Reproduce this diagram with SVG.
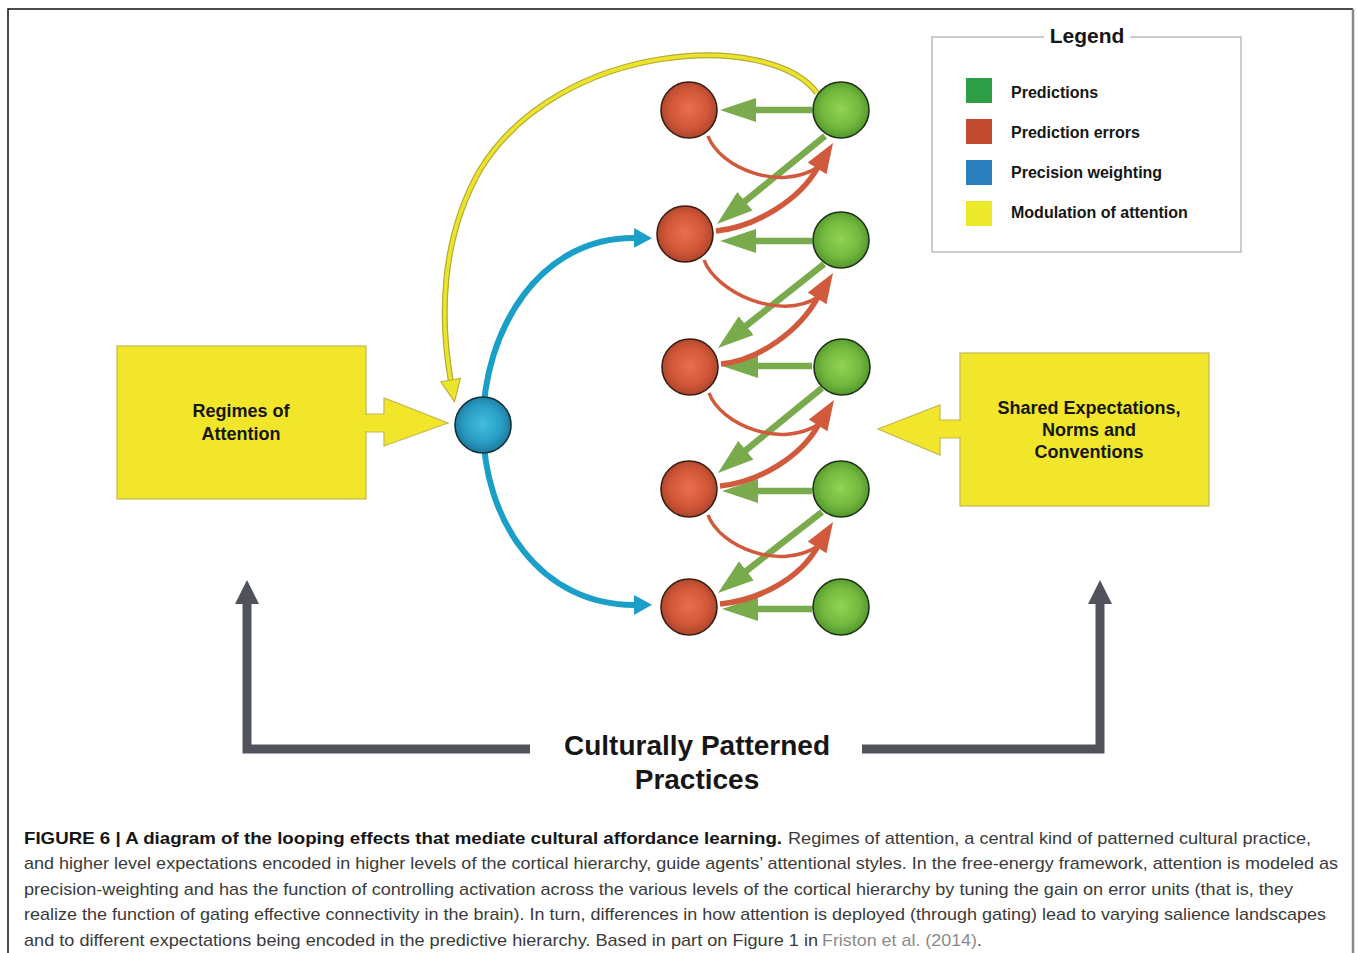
<svg xmlns="http://www.w3.org/2000/svg" xmlns:xlink="http://www.w3.org/1999/xlink" width="1357" height="953" viewBox="0 0 1357 953">
  <style>
    .lbl { font-family: "Liberation Sans", Arial, sans-serif; font-weight: bold; fill: #161616; }
    .cap { font-family: "Liberation Sans", Arial, sans-serif; font-size: 17px; fill: #3a3a3a; }
    .capb { font-family: "Liberation Sans", Arial, sans-serif; font-size: 17px; font-weight: bold; fill: #151515; }
    .box { fill: #f2e62a; stroke: #c4b850; stroke-width: 1.2; }
    .red { fill: url(#gRed); stroke: #3a1e12; stroke-width: 1.6; }
    .green { fill: url(#gGreen); stroke: #1f3312; stroke-width: 1.6; }
    .blue { fill: url(#gBlue); stroke: #10303e; stroke-width: 1.6; }
    .gline { stroke: #79aa4c; stroke-width: 6.5; fill: none; marker-end: url(#mGreen); }
    .rthin { stroke: #d25a3c; stroke-width: 3.5; fill: none; }
    .rthick { stroke: #d25a3c; stroke-width: 5.5; fill: none; }
    .gray { stroke: #50535c; stroke-width: 9; fill: none; }
  </style>
  <defs>
    <radialGradient id="gRed" cx="50%" cy="48%" r="55%">
      <stop offset="0" stop-color="#ea6d50"/>
      <stop offset="0.6" stop-color="#d25838"/>
      <stop offset="1" stop-color="#a9412a"/>
    </radialGradient>
    <radialGradient id="gGreen" cx="50%" cy="48%" r="55%">
      <stop offset="0" stop-color="#92d452"/>
      <stop offset="0.6" stop-color="#74b83e"/>
      <stop offset="1" stop-color="#4c942a"/>
    </radialGradient>
    <radialGradient id="gBlue" cx="50%" cy="48%" r="55%">
      <stop offset="0" stop-color="#40bde0"/>
      <stop offset="0.6" stop-color="#2a9ec4"/>
      <stop offset="1" stop-color="#1a7394"/>
    </radialGradient>
    <marker id="mGreen" markerUnits="userSpaceOnUse" viewBox="0 -13 36 26" markerWidth="36" markerHeight="26" refX="6" refY="0" orient="auto">
      <path d="M0,-12 L36,0 L0,12 z" fill="#79aa4c"/>
    </marker>
    <marker id="mBlue" markerUnits="userSpaceOnUse" viewBox="0 -11 18 22" markerWidth="18" markerHeight="22" refX="2" refY="0" orient="auto-start-reverse">
      <path d="M0,-10 L18,0 L0,10 z" fill="#1a9fc9"/>
    </marker>
    <marker id="mYellow" markerUnits="userSpaceOnUse" viewBox="-1 -12 25 24" markerWidth="25" markerHeight="24" refX="2" refY="0" orient="auto">
      <path d="M0,-10 L22,0 L0,10 z" fill="#ece42c" stroke="#b3aa34" stroke-width="1"/>
    </marker>
    <path id="rh" d="M0,0 L-30,-11 L-30,11 z" fill="#d25a3c"/>
  </defs>

  <rect width="1357" height="953" fill="#ffffff"/>

  <!-- figure frame -->
  <g id="frame" fill="none">
    <path d="M8,953 V9 H1353" stroke="#111" stroke-width="1.5"/>
    <path d="M1353,9 V953" stroke="#888" stroke-width="2.5"/>
  </g>

  <!-- legend -->
  <g id="legend">
    <path d="M1044,37 H932 V252 H1241 V37 H1130" fill="none" stroke="#bcbcbc" stroke-width="1.5"/>
    <text class="lbl" x="1087" y="43" font-size="21" text-anchor="middle">Legend</text>
    <rect x="966" y="78" width="26" height="25" fill="#2f9e49"/>
    <rect x="966" y="119" width="26" height="25" fill="#c24b31"/>
    <rect x="966" y="160" width="26" height="25" fill="#2b80c0"/>
    <rect x="966" y="201" width="26" height="25" fill="#ece82a"/>
    <text class="lbl" x="1011" y="98" font-size="16">Predictions</text>
    <text class="lbl" x="1011" y="138" font-size="16">Prediction errors</text>
    <text class="lbl" x="1011" y="178" font-size="16">Precision weighting</text>
    <text class="lbl" x="1011" y="218" font-size="16">Modulation of attention</text>
  </g>

  <!-- connectors -->
  <g id="connectors">
    <!-- modulation of attention: from top prediction unit to precision node -->
    <path d="M817,93 C770,30 560,40 480,170 C440,240 440,320 451,382" fill="none" stroke="#b3aa34" stroke-width="6"/>
    <path d="M817,93 C770,30 560,40 480,170 C440,240 440,320 451,382" fill="none" stroke="#ece42c" stroke-width="3.6" marker-end="url(#mYellow)"/>

    <!-- precision weighting onto error units -->
    <path d="M636,238 C540,236 483,330 483,425 C483,520 540,606 636,605" fill="none" stroke="#1a9fc9" stroke-width="6" marker-start="url(#mBlue)" marker-end="url(#mBlue)"/>

    <!-- predictions: same level -->
    <line class="gline" x1="812" y1="110" x2="750" y2="110"/>
    <line class="gline" x1="812" y1="241" x2="750" y2="241"/>
    <line class="gline" x1="812" y1="366" x2="752" y2="366"/>
    <line class="gline" x1="812" y1="491" x2="752" y2="491"/>
    <line class="gline" x1="812" y1="609" x2="752" y2="609"/>

    <!-- predictions: descending -->
    <line class="gline" x1="825" y1="136" x2="740.3" y2="205"/>
    <line class="gline" x1="824" y1="264" x2="741.5" y2="329.4"/>
    <line class="gline" x1="822" y1="388" x2="741.2" y2="454"/>
    <line class="gline" x1="822" y1="512" x2="741.7" y2="574.5"/>

    <!-- prediction errors: ascending -->
    <path class="rthin" d="M708,136 C720,168 780,192 818,167"/>
    <path class="rthick" d="M716,231 C755,227 800,200 818,167"/>
    <use href="#rh" transform="translate(833,143) rotate(-58)"/>

    <path class="rthin" d="M704,260 C716,292 780,322 818,297"/>
    <path class="rthick" d="M721,364 C760,360 800,330 818,297"/>
    <use href="#rh" transform="translate(833,273) rotate(-58)"/>

    <path class="rthin" d="M709,393 C721,425 781,449 819,424"/>
    <path class="rthick" d="M720,486 C759,482 801,457 819,424"/>
    <use href="#rh" transform="translate(834,400) rotate(-58)"/>

    <path class="rthin" d="M708,515 C720,547 780,571 818,546"/>
    <path class="rthick" d="M720,604 C759,600 800,579 818,546"/>
    <use href="#rh" transform="translate(833,522) rotate(-58)"/>

    <!-- feedback loops from practices -->
    <path class="gray" d="M530,749 H247 V602"/>
    <polygon points="235,604 247,580 259,604" fill="#50535c"/>
    <path class="gray" d="M862,749 H1100 V602"/>
    <polygon points="1088,604 1100,580 1112,604" fill="#50535c"/>
  </g>

  <!-- regimes of attention -->
  <g id="regimes">
    <rect class="box" x="117" y="346" width="249" height="153"/>
    <polygon class="box" points="366,414 384,414 384,398 448,423 384,446 384,432 366,432"/>
    <rect x="364" y="415" width="3" height="16" fill="#f2e62a"/>
    <text class="lbl" x="241" y="417" font-size="18" text-anchor="middle">Regimes of</text>
    <text class="lbl" x="241" y="440" font-size="18" text-anchor="middle">Attention</text>
  </g>

  <!-- shared expectations -->
  <g id="shared">
    <rect class="box" x="960" y="353" width="249" height="153"/>
    <polygon class="box" points="960,420 940,420 940,405 878,429 940,455 940,438 960,438"/>
    <rect x="959" y="421" width="3" height="16" fill="#f2e62a"/>
    <text class="lbl" x="1089" y="414" font-size="18" text-anchor="middle">Shared Expectations,</text>
    <text class="lbl" x="1089" y="436" font-size="18" text-anchor="middle">Norms and</text>
    <text class="lbl" x="1089" y="458" font-size="18" text-anchor="middle">Conventions</text>
  </g>

  <!-- precision weighting node -->
  <g id="precision"><circle class="blue" cx="483" cy="425" r="28"/></g>

  <!-- prediction error units -->
  <g id="error1"><circle class="red" cx="689" cy="110" r="28"/></g>
  <g id="error2"><circle class="red" cx="685" cy="234" r="28"/></g>
  <g id="error3"><circle class="red" cx="690" cy="367" r="28"/></g>
  <g id="error4"><circle class="red" cx="689" cy="489" r="28"/></g>
  <g id="error5"><circle class="red" cx="689" cy="607" r="28"/></g>

  <!-- prediction units -->
  <g id="pred1"><circle class="green" cx="841" cy="110" r="28"/></g>
  <g id="pred2"><circle class="green" cx="841" cy="240" r="28"/></g>
  <g id="pred3"><circle class="green" cx="842" cy="367" r="28"/></g>
  <g id="pred4"><circle class="green" cx="841" cy="489" r="28"/></g>
  <g id="pred5"><circle class="green" cx="841" cy="607" r="28"/></g>

  <!-- practices -->
  <g id="practices">
    <text class="lbl" x="697" y="755" font-size="28" text-anchor="middle">Culturally Patterned</text>
    <text class="lbl" x="697" y="789" font-size="28" text-anchor="middle">Practices</text>
  </g>

  <!-- caption -->
  <g id="caption">
    <text class="capb" x="24" y="844" textLength="758" lengthAdjust="spacingAndGlyphs">FIGURE 6 | A diagram of the looping effects that mediate cultural affordance learning.</text>
    <text class="cap" x="788" y="844" textLength="523" lengthAdjust="spacingAndGlyphs">Regimes of attention, a central kind of patterned cultural practice,</text>
    <text class="cap" x="24" y="869" textLength="1314" lengthAdjust="spacingAndGlyphs">and higher level expectations encoded in higher levels of the cortical hierarchy, guide agents’ attentional styles. In the free-energy framework, attention is modeled as</text>
    <text class="cap" x="24" y="895" textLength="1269" lengthAdjust="spacingAndGlyphs">precision-weighting and has the function of controlling activation across the various levels of the cortical hierarchy by tuning the gain on error units (that is, they</text>
    <text class="cap" x="24" y="920" textLength="1302" lengthAdjust="spacingAndGlyphs">realize the function of gating effective connectivity in the brain). In turn, differences in how attention is deployed (through gating) lead to varying salience landscapes</text>
    <text class="cap" x="24" y="946" textLength="794" lengthAdjust="spacingAndGlyphs">and to different expectations being encoded in the predictive hierarchy. Based in part on Figure 1 in</text>
    <text class="cap" x="822" y="946" textLength="155" lengthAdjust="spacingAndGlyphs" fill="#8a8a8a" style="fill:#8a8a8a">Friston et al. (2014)</text>
    <text class="cap" x="977" y="946">.</text>
  </g>
</svg>
